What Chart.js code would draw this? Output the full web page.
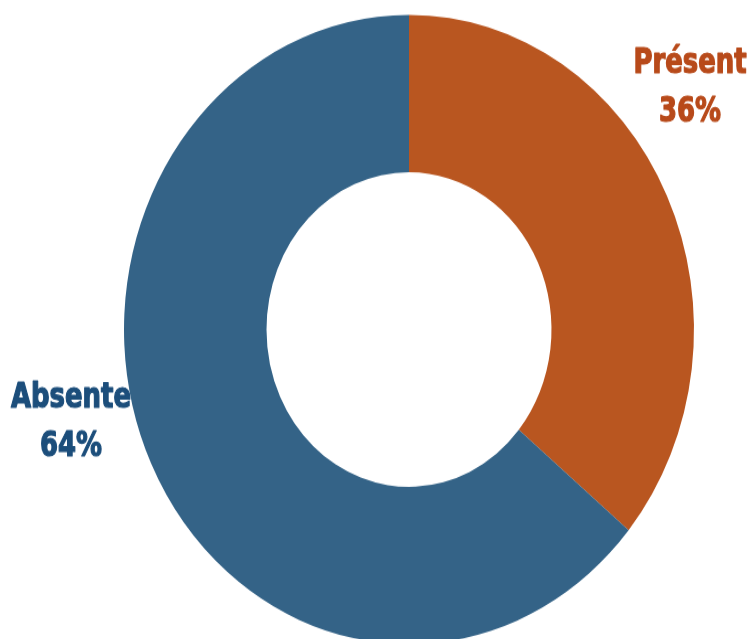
<!DOCTYPE html>
<html>
<head>
<meta charset="utf-8">
<script src="https://cdn.jsdelivr.net/npm/chart.js@4"></script>
<style>
  html, body { margin: 0; padding: 0; background: #fff; }
  #frame { width: 749px; height: 639px; overflow: hidden; }
  #wrap { width: 749px; height: 600px; transform: scaleY(1.104); transform-origin: 0 0; }
</style>
</head>
<body>
<div id="frame"><div id="wrap"><canvas id="chart" width="749" height="600"></canvas></div></div>
<script>
const categories = ["Présent", "Absente"];
const values = [36, 64];
const sliceColors = ["#B95620", "#346387"];
const labelColors = ["#B84A1A", "#1C4E7B"];

// label anchor offsets, as a fraction of the outer radius
const labelSpots = [[0.986, -0.815], [-1.186, 0.249]];

const sliceLabels = {
    id: "sliceLabels",
    afterDatasetsDraw(chart) {
        const ctx = chart.ctx;
        const meta = chart.getDatasetMeta(0);
        meta.data.forEach((arc, i) => {
            const p = arc.getProps(["x", "y", "outerRadius"], true);
            const x = p.x + p.outerRadius * labelSpots[i][0];
            const y = p.y + p.outerRadius * labelSpots[i][1];
            ctx.save();
            ctx.translate(x, y);
            ctx.scale(0.9, 1);
            ctx.font = "bold 32px 'DejaVu Sans Condensed', 'DejaVu Sans', sans-serif";
            ctx.textAlign = "center";
            ctx.textBaseline = "alphabetic";
            ctx.fillStyle = labelColors[i];
            ctx.strokeStyle = labelColors[i];
            ctx.lineWidth = 1.2;
            ctx.lineJoin = "round";
            [categories[i], values[i] + "%"].forEach((t, k) => {
                ctx.fillText(t, 0, k * 44);
                ctx.strokeText(t, 0, k * 44);
            });
            ctx.restore();
        });
    }
};

new Chart(document.getElementById("chart"), {
    type: "doughnut",
    data: {
        labels: categories,
        datasets: [{
            data: values,
            backgroundColor: sliceColors,
            borderWidth: 0
        }]
    },
    options: {
        responsive: false,
        animation: false,
        cutout: "50%",
        layout: { padding: { left: 124, right: 55, top: 13.5, bottom: 16.5 } },
        plugins: {
            legend: { display: false },
            tooltip: { enabled: false }
        }
    },
    plugins: [sliceLabels]
});
</script>
</body>
</html>
